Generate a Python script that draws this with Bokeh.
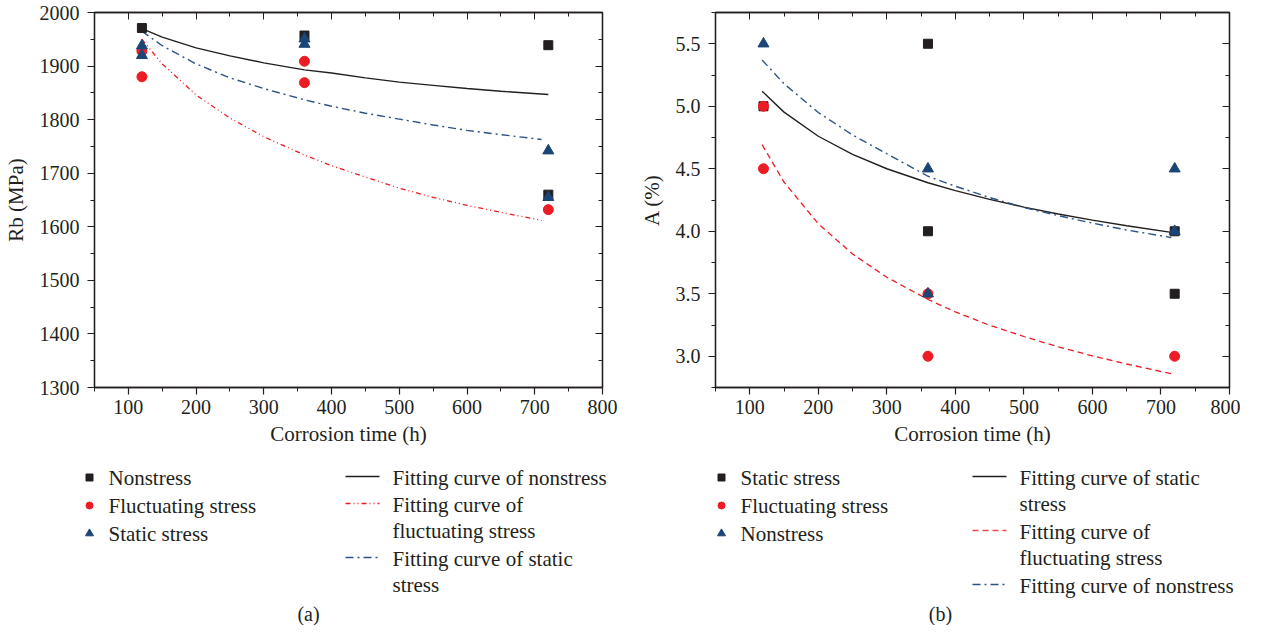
from bokeh.plotting import figure
from bokeh.layouts import row, column
from bokeh.models import Range1d, LinearAxis, FixedTicker, PrintfTickFormatter, CustomJSTickFormatter
from bokeh.core.properties import value
from bokeh.embed import file_html
from bokeh.resources import INLINE

# ---------------- data: panel (a) Rb ----------------
a_nonstress_x = [120, 360, 720, 720]
a_nonstress_y = [1971, 1957, 1939, 1660]
a_fluct_x = [120, 120, 360, 360, 720]
a_fluct_y = [1928, 1880, 1909, 1869, 1632]
a_static_x = [120, 120, 360, 360, 720, 720]
a_static_y = [1938, 1920, 1951, 1941, 1742, 1655]

a_fit_non_x = [120, 150, 200, 250, 300, 360, 400, 450, 500, 550, 600, 650, 720]
a_fit_non_y = [1970, 1954, 1934, 1919, 1906, 1893, 1887, 1878, 1870, 1864, 1858, 1853, 1847]
a_fit_fluct_x = [120, 150, 200, 250, 300, 360, 400, 450, 500, 550, 600, 650, 710]
a_fit_fluct_y = [1950, 1904, 1846, 1803, 1768, 1734, 1714, 1693, 1672, 1655, 1640, 1627, 1612]
a_fit_static_x = [120, 150, 200, 250, 300, 360, 400, 450, 500, 550, 600, 650, 710]
a_fit_static_y = [1965, 1938, 1904, 1878, 1858, 1837, 1825, 1812, 1801, 1790, 1780, 1772, 1763]

# ---------------- data: panel (b) A ----------------
b_static_x = [120, 360, 360, 720, 720]
b_static_y = [5.0, 5.5, 4.0, 4.0, 3.5]
b_fluct_x = [120, 120, 360, 360, 720]
b_fluct_y = [5.0, 4.5, 3.5, 3.0, 3.0]
b_non_x = [120, 360, 360, 720, 720]
b_non_y = [5.5, 4.5, 3.5, 4.5, 4.0]

b_fit_static_x = [118, 150, 200, 250, 300, 360, 400, 450, 500, 550, 600, 650, 720]
b_fit_static_y = [5.12, 4.953, 4.76, 4.615, 4.50, 4.388, 4.325, 4.255, 4.193, 4.138, 4.089, 4.044, 3.987]
b_fit_fluct_x = [118, 150, 200, 250, 300, 360, 400, 450, 500, 550, 600, 650, 717]
b_fit_fluct_y = [4.693, 4.393, 4.06, 3.818, 3.632, 3.454, 3.355, 3.248, 3.158, 3.075, 3.003, 2.938, 2.858]
b_fit_non_x = [118, 150, 200, 250, 300, 360, 400, 450, 500, 550, 600, 650, 715]
b_fit_non_y = [5.37, 5.18, 4.95, 4.77, 4.62, 4.44, 4.36, 4.27, 4.19, 4.125, 4.065, 4.01, 3.95]

x_ticks = [100, 200, 300, 400, 500, 600, 700, 800]
x_minor = [50, 150, 250, 350, 450, 550, 650, 750]
a_y_ticks = [1300, 1400, 1500, 1600, 1700, 1800, 1900, 2000]
a_y_minor = [1350, 1450, 1550, 1650, 1750, 1850, 1950]
b_y_ticks = [3.0, 3.5, 4.0, 4.5, 5.0, 5.5]
b_y_minor = [2.75, 3.25, 3.75, 4.25, 4.75, 5.25, 5.75]

a_legend_markers = ["Nonstress", "Fluctuating stress", "Static stress"]
a_legend_lines = [["Fitting curve of nonstress"], ["Fitting curve of", "fluctuating stress"],
                  ["Fitting curve of static", "stress"]]
b_legend_markers = ["Static stress", "Fluctuating stress", "Nonstress"]
b_legend_lines = [["Fitting curve of static", "stress"], ["Fitting curve of", "fluctuating stress"],
                  ["Fitting curve of nonstress"]]

FONT = "Liberation Serif"
INK = "#231f20"
RED = "#ed1c24"
BLUE = "#1c4577"
BLUE_LINE = "#2d5385"


def style_axes(p, yticks, yminor, fmt):
    p.xaxis.ticker = FixedTicker(ticks=x_ticks, minor_ticks=x_minor)
    p.yaxis.ticker = FixedTicker(ticks=yticks, minor_ticks=yminor)
    if fmt:
        p.yaxis.formatter = PrintfTickFormatter(format=fmt)
    for ax in [p.xaxis[0], p.yaxis[0]]:
        ax.axis_line_color = INK
        ax.axis_line_width = 1.3
        ax.major_tick_line_color = INK
        ax.minor_tick_line_color = INK
        ax.major_tick_line_width = 1.2
        ax.minor_tick_line_width = 1.0
        ax.major_tick_out = 7
        ax.major_tick_in = 0
        ax.minor_tick_out = 4
        ax.minor_tick_in = 0
        ax.major_label_text_font = FONT
        ax.major_label_text_font_size = "20px"
        ax.major_label_text_color = INK
        ax.axis_label_text_font = FONT
        ax.axis_label_text_font_size = "21px"
        ax.axis_label_text_font_style = "normal"
        ax.axis_label_text_color = INK
    p.xaxis.major_label_standoff = 5
    p.xaxis.axis_label_standoff = 5
    p.yaxis.major_label_standoff = 8
    p.yaxis.axis_label_standoff = 9
    empty = CustomJSTickFormatter(code="return ''")
    top = LinearAxis(ticker=FixedTicker(ticks=x_ticks, minor_ticks=x_minor), formatter=empty)
    right = LinearAxis(ticker=FixedTicker(ticks=yticks, minor_ticks=yminor), formatter=empty)
    for ax in [top, right]:
        ax.axis_line_color = INK
        ax.axis_line_width = 1.3
        ax.major_tick_line_color = INK
        ax.minor_tick_line_color = INK
        ax.major_tick_in = 7
        ax.major_tick_out = 0
        ax.minor_tick_in = 4
        ax.minor_tick_out = 0
        ax.major_label_text_font_size = "1px"
        ax.major_label_standoff = 0
    p.add_layout(top, "above")
    p.add_layout(right, "right")
    p.xgrid.visible = False
    p.ygrid.visible = False
    p.outline_line_color = INK
    p.outline_line_width = 1.3


def make_plot(width, left_border, right_border, yr, ylabel):
    p = figure(width=width, height=453, x_range=Range1d(50, 800), y_range=yr,
               output_backend="svg", toolbar_location=None,
               min_border_left=left_border, min_border_right=right_border,
               min_border_top=12, min_border_bottom=66,
               x_axis_label="Corrosion time (h)", y_axis_label=ylabel)
    p.background_fill_color = "white"
    p.border_fill_color = "white"
    return p


# ---------------- panel (a) ----------------
pa = make_plot(620, 88, 18, Range1d(1300, 2000), "Rb (MPa)")
style_axes(pa, a_y_ticks, a_y_minor, None)
pa.line(a_fit_non_x, a_fit_non_y, line_color=INK, line_width=1.4)
pa.line(a_fit_fluct_x, a_fit_fluct_y, line_color=RED, line_width=1.3, line_dash="5 3 1 3 1 3")
pa.line(a_fit_static_x, a_fit_static_y, line_color=BLUE_LINE, line_width=1.4, line_dash="8 4 2 4")
pa.scatter(a_nonstress_x, a_nonstress_y, marker="square", size=9, color=INK)
pa.scatter(a_fluct_x, a_fluct_y, marker="circle", size=10, color=RED)
pa.scatter(a_static_x, a_static_y, marker="triangle", size=11, color=BLUE)

# ---------------- panel (b) ----------------
pb = make_plot(620, 95, 11, Range1d(2.75, 5.75), "A (%)")
style_axes(pb, b_y_ticks, b_y_minor, "%.1f")
pb.line(b_fit_static_x, b_fit_static_y, line_color=INK, line_width=1.4)
pb.line(b_fit_fluct_x, b_fit_fluct_y, line_color=RED, line_width=1.3, line_dash="6 4")
pb.line(b_fit_non_x, b_fit_non_y, line_color=BLUE_LINE, line_width=1.4, line_dash="8 4 2 4")
pb.scatter(b_static_x, b_static_y, marker="square", size=9, color=INK)
pb.scatter(b_fluct_x, b_fluct_y, marker="circle", size=10, color=RED)
pb.scatter(b_non_x, b_non_y, marker="triangle", size=11, color=BLUE)

# ---------------- legend strip (page-pixel coordinates) ----------------
LG_TOP = 461
LG_H = 172
lg = figure(width=1240, height=LG_H, x_range=Range1d(8, 1248), y_range=Range1d(LG_TOP + LG_H, LG_TOP),
            output_backend="svg", toolbar_location=None, x_axis_type=None, y_axis_type=None,
            min_border=0)
lg.outline_line_color = None
lg.xgrid.visible = False
lg.ygrid.visible = False


def draw_legend(marker_labels, line_labels, mk_x, line_x, caption, cap_x, line_styles):
    rows = [485, 513, 541]
    markers = [("square", INK, 7), ("circle", RED, 7), ("triangle", BLUE, 8)]
    for (m, c, s), lab, yy in zip(markers, marker_labels, rows):
        lg.scatter([mk_x], [yy], marker=m, size=s, color=c)
        lg.text([mk_x + 19], [yy], text=[lab], text_font=value(FONT), text_font_size="21px",
                text_color=INK, text_baseline="middle", text_align="left")
    yy = 485
    for labs, (col, dash) in zip(line_labels, line_styles):
        lg.line([line_x, line_x + 34], [yy - 1, yy - 1], line_color=col, line_width=1.4, line_dash=dash)
        for k, t in enumerate(labs):
            lg.text([line_x + 47], [yy + k * 26.5], text=[t], text_font=value(FONT), text_font_size="21px",
                    text_color=INK, text_baseline="middle", text_align="left")
        yy += 27 * len(labs)
    lg.text([cap_x], [621], text=[caption], text_font=value(FONT), text_font_size="20px",
            text_color=INK, text_baseline="middle", text_align="center")


draw_legend(a_legend_markers, a_legend_lines, 97, 353, "(a)", 316,
            [(INK, "solid"), (RED, "5 3 1 3 1 3"), (BLUE_LINE, "8 4 2 4")])
draw_legend(b_legend_markers, b_legend_lines, 729, 980, "(b)", 948,
            [(INK, "solid"), ("#f0484e", "6 4"), (BLUE_LINE, "8 4 2 4")])

layout = column(row(pa, pb), lg)
open("out.html", "w").write(file_html(layout, INLINE))
